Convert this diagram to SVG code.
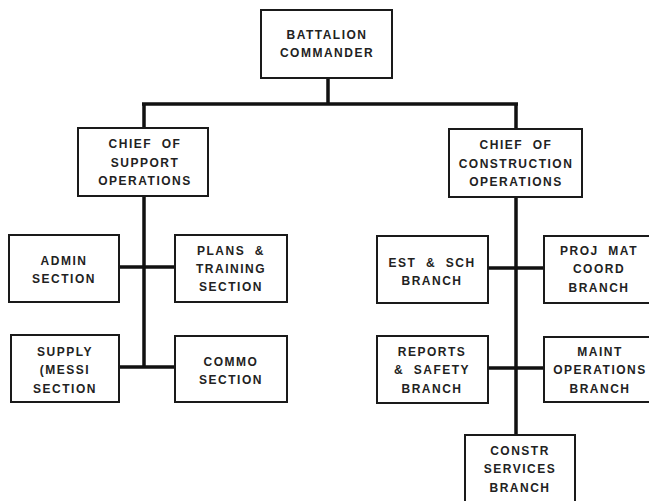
<svg xmlns="http://www.w3.org/2000/svg" width="649" height="501" viewBox="0 0 649 501">
<style>
.box{fill:#fff;stroke:#1a1a1a;stroke-width:2}
.lbl{font-family:"Liberation Sans",Arial,sans-serif;font-weight:bold;font-size:12px;letter-spacing:1.5px;fill:#222;text-anchor:middle;white-space:pre}
.con{stroke:#111;stroke-width:3.5;fill:none;stroke-linecap:butt}
</style>
<rect width="649" height="501" fill="#fff"/>
<g id="connectors">
<path class="con" d="M328 78V104M142 104H518M144 104V128M516 104V129"/>
<path class="con" d="M144 196V368M119 267H175M119 367H175"/>
<path class="con" d="M516 197V435M488 268H544M488 368H544"/>
</g>
<g id="battalion-commander">
<rect class="box" x="261" y="10" width="131" height="68"/>
<text class="lbl" x="327" y="39">BATTALION</text>
<text class="lbl" x="327" y="57">COMMANDER</text>
</g>
<g id="chief-support">
<rect class="box" x="78" y="128" width="130" height="68"/>
<text class="lbl" x="145" y="148" xml:space="preserve">CHIEF  OF</text>
<text class="lbl" x="145" y="167">SUPPORT</text>
<text class="lbl" x="145" y="185">OPERATIONS</text>
</g>
<g id="chief-construction">
<rect class="box" x="449" y="129" width="133" height="68"/>
<text class="lbl" x="516" y="149" xml:space="preserve">CHIEF  OF</text>
<text class="lbl" x="516" y="168">CONSTRUCTION</text>
<text class="lbl" x="516" y="186">OPERATIONS</text>
</g>
<g id="admin-section">
<rect class="box" x="9" y="235" width="110" height="67"/>
<text class="lbl" x="64" y="265">ADMIN</text>
<text class="lbl" x="64" y="283">SECTION</text>
</g>
<g id="plans-training-section">
<rect class="box" x="175" y="235" width="112" height="67"/>
<text class="lbl" x="231" y="255" xml:space="preserve">PLANS  &amp;</text>
<text class="lbl" x="231" y="273">TRAINING</text>
<text class="lbl" x="231" y="291">SECTION</text>
</g>
<g id="supply-section">
<rect class="box" x="11" y="335" width="108" height="67"/>
<text class="lbl" x="65" y="356">SUPPLY</text>
<text class="lbl" x="65" y="374">(MESSI</text>
<text class="lbl" x="65" y="393">SECTION</text>
</g>
<g id="commo-section">
<rect class="box" x="175" y="336" width="112" height="66"/>
<text class="lbl" x="231" y="366">COMMO</text>
<text class="lbl" x="231" y="384">SECTION</text>
</g>
<g id="est-sch-branch">
<rect class="box" x="377" y="236" width="111" height="67"/>
<text class="lbl" x="432" y="267" xml:space="preserve">EST  &amp;  SCH</text>
<text class="lbl" x="432" y="285">BRANCH</text>
</g>
<g id="proj-mat-coord-branch">
<rect class="box" x="544" y="236" width="110" height="67"/>
<text class="lbl" x="599" y="255" xml:space="preserve">PROJ  MAT</text>
<text class="lbl" x="599" y="273">COORD</text>
<text class="lbl" x="599" y="292">BRANCH</text>
</g>
<g id="reports-safety-branch">
<rect class="box" x="377" y="336" width="111" height="67"/>
<text class="lbl" x="432" y="356">REPORTS</text>
<text class="lbl" x="432" y="374" xml:space="preserve">&amp;  SAFETY</text>
<text class="lbl" x="432" y="393">BRANCH</text>
</g>
<g id="maint-operations-branch">
<rect class="box" x="544" y="337" width="110" height="65"/>
<text class="lbl" x="600" y="356">MAINT</text>
<text class="lbl" x="600" y="374">OPERATIONS</text>
<text class="lbl" x="600" y="393">BRANCH</text>
</g>
<g id="constr-services-branch">
<rect class="box" x="465" y="435" width="110" height="70"/>
<text class="lbl" x="520" y="455">CONSTR</text>
<text class="lbl" x="520" y="473">SERVICES</text>
<text class="lbl" x="520" y="492">BRANCH</text>
</g>
</svg>
